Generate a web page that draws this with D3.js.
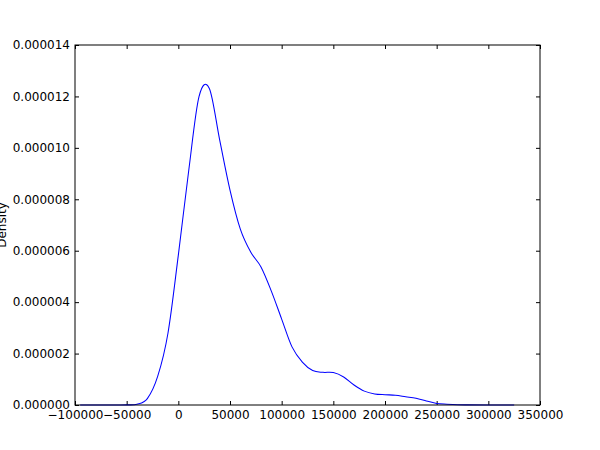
<!DOCTYPE html>
<html>
<head>
<meta charset="utf-8">
<script src="https://cdn.jsdelivr.net/npm/d3@7"></script>
<style>
  body { margin: 0; background: #fff; }
  text { font-family: "DejaVu Sans", sans-serif; }
</style>
</head>
<body>
<div id="myChart"></div>
<script>
// density curve (x in same units as the axis)
var xs = [-95000, -60000, -50000, -40000, -30000, -20000, -10000, 0, 10000, 20000, 30000,
  40000, 50000, 60000, 70000, 80000, 90000, 100000, 110000, 120000, 130000, 140000, 150000,
  160000, 170000, 180000, 190000, 200000, 210000, 220000, 230000, 240000, 250000, 260000,
  270000, 280000, 300000, 325000];
var dens = [0, 0.001e-6, 0.005e-6, 0.03e-6, 0.25e-6, 1.11e-6, 2.80e-6, 5.83e-6, 9.10e-6, 11.99e-6, 12.31e-6,
  10.31e-6, 8.36e-6, 6.84e-6, 5.95e-6, 5.37e-6, 4.43e-6, 3.34e-6, 2.26e-6, 1.67e-6, 1.34e-6, 1.27e-6, 1.26e-6,
  1.09e-6, 0.78e-6, 0.54e-6, 0.43e-6, 0.40e-6, 0.38e-6, 0.32e-6, 0.26e-6, 0.16e-6, 0.06e-6, 0.03e-6,
  0.01e-6, 0.005e-6, 0.002e-6, 0.001e-6];

var xTicks = [-100000, -50000, 0, 50000, 100000, 150000, 200000, 250000, 300000, 350000];
var yTicks = [0, 0.000002, 0.000004, 0.000006, 0.000008, 0.000010, 0.000012, 0.000014];
var yLabel = "Density";

let svgWidth = 600;
let svgHeight = 450;
let margin = { left: 75, right: 60, top: 45, bottom: 45 };

let svg = d3.select("#myChart").append("svg")
  .attr("width", svgWidth)
  .attr("height", svgHeight);

var x = d3.scaleLinear()
  .domain([-100000, 350000])
  .range([margin.left, svgWidth - margin.right]);
var y = d3.scaleLinear()
  .domain([0, 0.000014])
  .range([svgHeight - margin.bottom, margin.top]);

function fmtX(d) { return d < 0 ? "\u2212" + Math.abs(d) : String(d); }

// axes, ticks pointing inward like matplotlib classic
var gx = svg.append("g")
  .attr("transform", "translate(0," + y(0) + ")")
  .call(d3.axisBottom(x).tickValues(xTicks).tickFormat(fmtX).tickSizeInner(-4).tickSizeOuter(0).tickPadding(5));
var gy = svg.append("g")
  .attr("transform", "translate(" + x(-100000) + ",0)")
  .call(d3.axisLeft(y).tickValues(yTicks).tickFormat(d3.format(".6f")).tickSizeInner(-4).tickSizeOuter(0).tickPadding(5));
svg.append("g")
  .attr("transform", "translate(0," + y(0.000014) + ")")
  .call(d3.axisTop(x).tickValues(xTicks).tickFormat("").tickSizeInner(-4).tickSizeOuter(0));
svg.append("g")
  .attr("transform", "translate(" + x(350000) + ",0)")
  .call(d3.axisRight(y).tickValues(yTicks).tickFormat("").tickSizeInner(-4).tickSizeOuter(0));

svg.selectAll(".domain").remove();
svg.selectAll(".tick line").attr("stroke", "#000");
svg.selectAll(".tick text").attr("font-size", "12px").attr("fill", "#000")
  .style("font-family", "DejaVu Sans");

// curve
var line = d3.line()
  .x(function(d, i) { return x(xs[i]); })
  .y(function(d) { return y(d); })
  .curve(d3.curveCatmullRom.alpha(0));

svg.append("path")
  .datum(dens)
  .attr("fill", "none")
  .attr("stroke", "#0000ff")
  .attr("stroke-width", 1.05)
  .attr("d", line);

// frame
svg.append("rect")
  .attr("x", x(-100000))
  .attr("y", y(0.000014))
  .attr("width", x(350000) - x(-100000))
  .attr("height", y(0) - y(0.000014))
  .attr("fill", "none")
  .attr("stroke", "#000")
  .attr("stroke-width", 1);

svg.append("text")
  .attr("transform", "translate(6," + ((y(0) + y(0.000014)) / 2) + ") rotate(-90)")
  .attr("text-anchor", "middle")
  .attr("font-size", "12px")
  .text(yLabel);
</script>
</body>
</html>
